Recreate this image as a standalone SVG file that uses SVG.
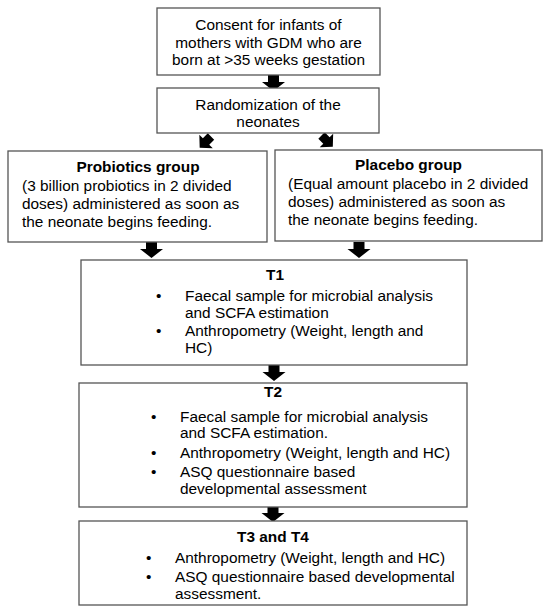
<svg xmlns="http://www.w3.org/2000/svg" width="550" height="614" viewBox="0 0 550 614">
<style>
.box{fill:#fff;stroke:#555;stroke-width:1.3}
text{font-family:"Liberation Sans",Arial,sans-serif;font-size:15.4px;fill:#000}
.c{text-anchor:middle}
.b{font-weight:bold}
.arr{fill:#000}
</style>
<defs>
<polygon id="down" points="-5.5,0 5.5,0 5.5,7 11.5,7 0,16 -11.5,7 -5.5,7"/>
<polygon id="diag" points="-4.5,0 4.5,0 4.5,7 9.5,7 0,16 -9.5,7 -4.5,7"/>
</defs>
<rect width="550" height="614" fill="#fff"/>
<g id="connectors">
<use href="#down" class="arr" x="273.5" y="75"/>
<use href="#diag" class="arr" transform="translate(211,136.5) rotate(45)"/>
<use href="#diag" class="arr" transform="translate(321.5,135.5) rotate(-45)"/>
<use href="#down" class="arr" x="151.5" y="242"/>
<use href="#down" class="arr" x="359" y="242"/>
<use href="#down" class="arr" x="274" y="365"/>
<use href="#down" class="arr" x="273" y="506"/>
</g>
<g id="consent">
<rect class="box" x="157" y="8" width="223" height="67"/>
<text class="c" x="268.5" y="30">Consent for infants of</text>
<text class="c" x="268.5" y="48">mothers with GDM who are</text>
<text class="c" x="268.5" y="65">born at &gt;35 weeks gestation</text>
</g>
<g id="randomization">
<rect class="box" x="157" y="88" width="222" height="45"/>
<text class="c" x="268" y="110">Randomization of the</text>
<text class="c" x="268" y="127">neonates</text>
</g>
<g id="probiotics">
<rect class="box" x="8" y="151" width="259" height="91"/>
<text class="c b" x="138" y="172">Probiotics group</text>
<text x="22" y="191">(3 billion probiotics in 2 divided</text>
<text x="22" y="209">doses) administered as soon as</text>
<text x="22" y="227">the neonate begins feeding.</text>
</g>
<g id="placebo">
<rect class="box" x="275" y="150" width="267" height="91"/>
<text class="c b" x="408.5" y="170">Placebo group</text>
<text x="288" y="189">(Equal amount placebo in 2 divided</text>
<text x="288" y="207">doses) administered as soon as</text>
<text x="288" y="225">the neonate begins feeding.</text>
</g>
<g id="t1">
<rect class="box" x="81" y="260" width="386" height="105"/>
<text class="c b" x="275" y="280">T1</text>
<text x="156" y="301">•</text>
<text x="185" y="301">Faecal sample for microbial analysis</text>
<text x="185" y="318">and SCFA estimation</text>
<text x="156" y="336">•</text>
<text x="185" y="336">Anthropometry (Weight, length and</text>
<text x="185" y="353">HC)</text>
</g>
<g id="t2">
<rect class="box" x="79" y="383" width="388" height="124"/>
<text class="c b" x="273" y="397">T2</text>
<text x="151" y="422">•</text>
<text x="180" y="422">Faecal sample for microbial analysis</text>
<text x="180" y="438">and SCFA estimation.</text>
<text x="151" y="458">•</text>
<text x="180" y="458">Anthropometry (Weight, length and HC)</text>
<text x="151" y="477">•</text>
<text x="180" y="477">ASQ questionnaire based</text>
<text x="180" y="494">developmental assessment</text>
</g>
<g id="t3t4">
<rect class="box" x="79" y="521" width="388" height="84"/>
<text class="c b" x="273" y="542">T3 and T4</text>
<text x="146" y="563">•</text>
<text x="175" y="563">Anthropometry (Weight, length and HC)</text>
<text x="146" y="582">•</text>
<text x="175" y="582">ASQ questionnaire based developmental</text>
<text x="175" y="599">assessment.</text>
</g>
</svg>
